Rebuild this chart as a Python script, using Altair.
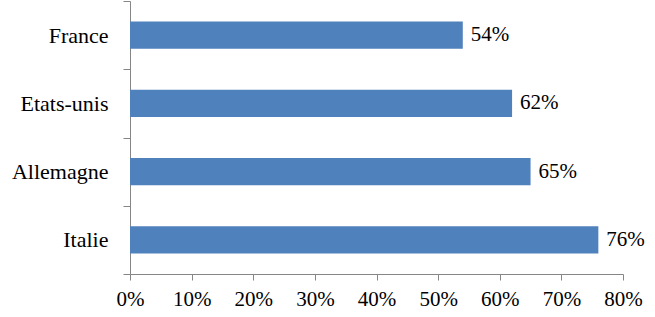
import altair as alt
import pandas as pd

countries = ["France", "Etats-unis", "Allemagne", "Italie"]
values = [54, 62, 65, 76]
x_ticks = [0, 10, 20, 30, 40, 50, 60, 70, 80]

df = pd.DataFrame({"pays": countries, "valeur": values})
df["label"] = [f"{v}%" for v in values]

FONT = "Liberation Serif"
AXIS_COLOR = "#868686"

y_enc = alt.Y(
    "pays:N",
    sort=countries,
    title=None,
    scale=alt.Scale(paddingInner=0, paddingOuter=0),
    axis=alt.Axis(
        tickBand="extent",
        tickSize=7,
        tickColor=AXIS_COLOR,
        domainColor=AXIS_COLOR,
        labelFont=FONT,
        labelFontSize=22,
        labelColor="#000000",
        labelPadding=15,
        grid=False,
    ),
)

x_enc = alt.X(
    "valeur:Q",
    title=None,
    scale=alt.Scale(domain=[0, 80], nice=False),
    axis=alt.Axis(
        values=x_ticks,
        labelExpr="datum.value + '%'",
        labelFlush=False,
        labelOverlap=False,
        tickSize=6,
        tickColor=AXIS_COLOR,
        domainColor=AXIS_COLOR,
        labelFont=FONT,
        labelFontSize=21,
        labelColor="#000000",
        labelPadding=8,
        grid=False,
    ),
)

bars = alt.Chart(df).mark_bar(
    color="#4F81BD", height={"band": 0.4}
).encode(x=x_enc, y=y_enc)

text = alt.Chart(df).mark_text(
    align="left", baseline="middle", dx=8, font=FONT, fontSize=21, color="#000000"
).encode(
    x="valeur:Q",
    y=alt.Y("pays:N", sort=countries),
    text="label:N",
)

chart = (
    alt.layer(bars, text)
    .properties(
        width=493,
        height=273,
        padding={"left": 130, "top": 1, "right": 32, "bottom": 43},
        autosize=alt.AutoSizeParams(type="none"),
        background="white",
    )
    .configure_view(strokeWidth=0, stroke=None)
    .configure_axis(grid=False)
)

chart.save("out.html", embed_options={"renderer": "svg", "actions": False})
